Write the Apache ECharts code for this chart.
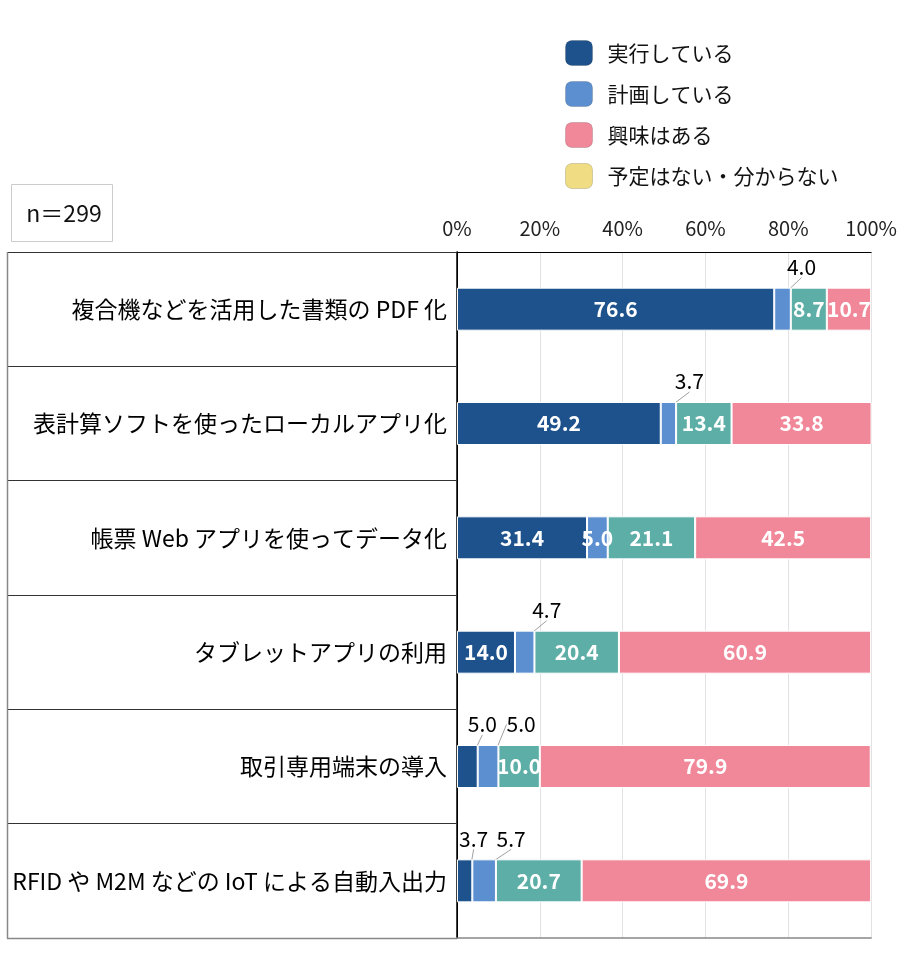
<!DOCTYPE html>
<html>
<head>
<meta charset="utf-8">
<title>chart</title>
<script src="https://cdn.jsdelivr.net/npm/echarts@6/dist/echarts.min.js"></script>
<style>
  html, body { margin: 0; padding: 0; background: #fff; }
  #chart { width: 900px; height: 969px; }
</style>
</head>
<body>
<div id="chart"></div>
<script>
// カテゴリ（上から順）
var categories = [
  '複合機などを活用した書類の PDF 化',
  '表計算ソフトを使ったローカルアプリ化',
  '帳票 Web アプリを使ってデータ化',
  'タブレットアプリの利用',
  '取引専用端末の導入',
  'RFID や M2M などの IoT による自動入出力'
];

var seriesNames = ['実行している', '計画している', '興味はある', '予定はない・分からない'];

// 各系列の値（%）
var jikko   = [76.6, 49.2, 31.4, 14.0, 5.0, 3.7];
var keikaku = [4.0, 3.7, 5.0, 4.7, 5.0, 5.7];
var kyomi   = [8.7, 13.4, 21.1, 20.4, 10.0, 20.7];
var yotei   = [10.7, 33.8, 42.5, 60.9, 79.9, 69.9];

var tickLabels = ['0%', '20%', '40%', '60%', '80%', '100%'];

var FONT = '"Noto Sans CJK JP", "Noto Sans", sans-serif';

// バーの色と凡例の色（元図の凡例のまま）
var barColors = ['#1D528C', '#5B8FD0', '#5DAEA6', '#F0889A'];
var legendColors = ['#1D528C', '#5B8FD0', '#F0889A', '#F0DC82'];

// 棒の外に出すラベル: "系列-行" -> 横ずらし量
var outsideLabels = {
  '1-0': 19, '1-1': 21, '1-3': 22,
  '0-4': 15, '1-4': 33,
  '0-5': 9, '1-5': 27
};

function buildData(values, si) {
  return values.map(function (v, i) {
    if (outsideLabels[si + '-' + i] != null) {
      return {
        value: v,
        label: { color: '#000', fontWeight: 'normal', fontSize: 21 },
        labelLine: { show: true }
      };
    }
    return v;
  });
}

var chart = echarts.init(document.getElementById('chart'));

var allValues = [jikko, keikaku, kyomi, yotei];

var series = allValues.map(function (vals, si) {
  return {
    name: seriesNames[si],
    type: 'bar',
    stack: 'total',
    barWidth: 43,
    data: buildData(vals, si),
    itemStyle: { color: barColors[si], borderColor: '#fff', borderWidth: 1 },
    label: {
      show: true,
      position: 'inside',
      color: '#fff',
      fontWeight: 'bold',
      fontSize: 21,
      fontFamily: FONT,
      formatter: function (p) { return Number(p.value).toFixed(1); }
    },
    labelLine: { show: false, lineStyle: { color: '#888', width: 0.8 } },
    labelLayout: function (params) {
      var dx = outsideLabels[params.seriesIndex + '-' + params.dataIndex];
      if (dx == null) return null;
      var r = params.rect;
      return {
        x: r.x + r.width / 2 + dx,
        y: r.y + r.height / 2 - 42,
        align: 'center',
        verticalAlign: 'middle'
      };
    }
  };
});

var option = {
  animation: false,
  textStyle: { fontFamily: FONT },
  legend: {
    orient: 'vertical',
    left: 560,
    top: 35,
    itemWidth: 27,
    itemHeight: 25,
    itemGap: 15,
    icon: 'roundRect',
    selectedMode: false,
    textStyle: {
      fontSize: 21,
      color: '#111',
      lineHeight: 25,
      padding: [0, 0, 0, 10]
    },
    data: seriesNames.map(function (n, i) {
      return { name: n, itemStyle: { color: legendColors[i], borderColor: 'rgba(0,0,0,0.15)', borderWidth: 1 } };
    })
  },
  grid: { left: 457, right: 28, top: 252, bottom: 31, containLabel: false },
  xAxis: [
    {
      type: 'value',
      position: 'top',
      min: 0,
      max: 100,
      interval: 20,
      axisLine: { show: true, lineStyle: { color: '#000', width: 1 } },
      axisTick: { show: false },
      axisLabel: {
        margin: 14,
        fontSize: 20,
        color: '#222',
        formatter: function (v) { return tickLabels[v / 20]; }
      },
      splitLine: { show: true, lineStyle: { color: '#e2e2e2', width: 1 } }
    },
    {
      type: 'value',
      position: 'bottom',
      min: 0,
      max: 100,
      axisLine: { show: true, lineStyle: { color: '#888', width: 1.5 } },
      axisTick: { show: false },
      axisLabel: { show: false },
      splitLine: { show: false }
    }
  ],
  yAxis: [
    {
      type: 'category',
      data: categories,
      inverse: true,
      position: 'left',
      axisLine: { show: true, lineStyle: { color: '#000', width: 1 } },
      axisTick: { show: true, length: 449, lineStyle: { color: '#333', width: 1 } },
      axisLabel: { margin: 10, fontSize: 23, color: '#000' }
    },
    {
      type: 'category',
      data: categories,
      inverse: true,
      position: 'right',
      axisLine: { show: true, lineStyle: { color: '#000', width: 1.5 } },
      axisTick: { show: false },
      axisLabel: { show: false }
    }
  ],
  graphic: [
    // n=299 の枠
    {
      type: 'rect',
      shape: { x: 11.5, y: 184.5, width: 101, height: 57 },
      style: { fill: 'none', stroke: '#ccc', lineWidth: 1 }
    },
    {
      type: 'text',
      x: 64,
      y: 213,
      style: {
        text: 'n＝299',
        fontSize: 23,
        fontFamily: FONT,
        fill: '#111',
        align: 'center',
        verticalAlign: 'middle'
      }
    },
    // 左側の枠線
    {
      type: 'line',
      shape: { x1: 7.5, y1: 252, x2: 7.5, y2: 938.5 },
      style: { stroke: '#888', lineWidth: 1.5 },
      z: 10
    },
    {
      type: 'line',
      shape: { x1: 7, y1: 938.5, x2: 457, y2: 938.5 },
      style: { stroke: '#888', lineWidth: 1.5 },
      z: 10
    }
  ],
  series: series
};

chart.setOption(option);
</script>
</body>
</html>
